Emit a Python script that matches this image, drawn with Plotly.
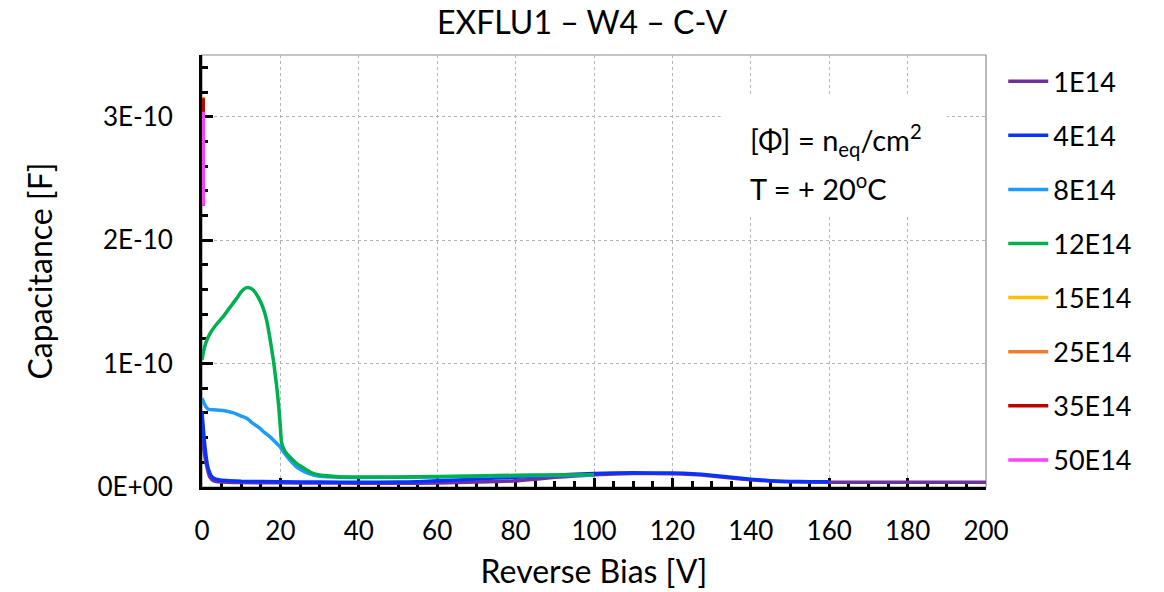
import numpy as np
import plotly.graph_objects as go

# ---------------- data (capacitance in pF, bias in V) ----------------
names = ["1E14", "4E14", "8E14", "12E14", "15E14", "25E14", "35E14", "50E14"]
colors = ["#7030A0", "#0A32FF", "#1E9BFF", "#00B050", "#FFC000", "#ED7D31", "#C00000", "#FF40FF"]

v_1e14 = [0, 1, 2, 3, 5, 10, 20, 30, 40, 50, 60, 70, 80, 85, 90, 95, 100, 110, 120, 125, 130, 135, 140, 145, 150, 160, 170, 180, 190, 200]
c_1e14 = [40, 20, 8, 5, 4, 3.6, 3.4, 3.2, 3.1, 3.0, 3.3, 4.0, 5.0, 6.3, 7.8, 8.9, 10.0, 10.9, 10.8, 10.2, 9.0, 7.3, 5.8, 4.8, 4.3, 3.9, 3.8, 3.8, 3.8, 3.8]

v_4e14 = [0, 0.5, 1, 1.5, 2.5, 3.5, 4.6, 7, 10, 20, 30, 40, 50, 55, 60, 70, 80, 90, 100, 110, 120, 125, 130, 135, 140, 145, 150, 155, 160]
c_4e14 = [61, 41, 26, 16, 8.4, 6.3, 5.6, 5.0, 4.6, 4.2, 4.0, 3.9, 4.0, 4.3, 5.0, 6.5, 8.0, 9.5, 11.0, 11.5, 11.3, 10.8, 9.6, 7.9, 6.3, 5.1, 4.5, 4.3, 4.2]

v_8e14 = [0, 0.5, 1, 1.6, 3, 5.4, 8, 10, 11.4, 13, 14.8, 16, 17.3, 18.5, 19.9, 21, 22.4, 24, 25.2, 27, 28.4, 30, 35, 40, 60, 80, 100]
c_8e14 = [72, 68, 65, 63, 62.5, 62, 60, 57.5, 55.6, 51.5, 47.5, 44, 40.8, 37, 32.7, 27.5, 21.9, 16.5, 14.0, 11.2, 9.7, 8.6, 7.8, 7.6, 8.1, 9.2, 9.6]

v_12e14 = [0, 0.4, 1, 2, 3.5, 5.4, 7, 8.9, 10, 11, 12, 12.7, 13.5, 14.8, 15.7, 16.5, 17.3, 18.2, 19, 19.5, 20, 20.3, 21, 21.6, 23, 24.2, 25.5, 26.7, 28, 30, 35, 40, 50, 60, 70, 80, 90, 100]
c_12e14 = [103, 110, 117, 124, 131, 138, 145, 153, 158, 161, 161.5, 160.5, 158, 151, 144, 135, 121, 103, 83, 68, 48, 36, 30, 27, 22.5, 19, 16.2, 13.8, 11.5, 9.7, 8.4, 8.2, 8.2, 8.5, 9.0, 9.5, 9.8, 9.9]

v_15e14 = [0.3, 0.3]
c_15e14 = [316, 228]
v_25e14 = [0.3, 0.3]
c_25e14 = [315.6, 228]
v_35e14 = [0.3, 0.3]
c_35e14 = [315, 228]
v_50e14 = [0.3, 0.3]
c_50e14 = [304, 228]

series_v = [v_1e14, v_4e14, v_8e14, v_12e14, v_15e14, v_25e14, v_35e14, v_50e14]
series_c = [c_1e14, c_4e14, c_8e14, c_12e14, c_15e14, c_25e14, c_35e14, c_50e14]

y_tickvals = [0, 1e-10, 2e-10, 3e-10]
y_ticktext = ["0E+00", "1E-10", "2E-10", "3E-10"]

FONT = "Lato"

fig = go.Figure()
for name, col, v, c in zip(names, colors, series_v, series_c):
    fig.add_trace(go.Scatter(
        x=v, y=np.array(c) * 1e-12, mode="lines", name=name,
        line=dict(color=col, width=3.5, shape="spline", smoothing=0.5),
        legendgroup=name,
    ))

grid = dict(showgrid=True, gridcolor="#b5b5b5", griddash="dot", gridwidth=1)

fig.update_xaxes(
    range=[0, 200], dtick=20, tick0=0, automargin=False,
    showline=True, linecolor="black", linewidth=3, layer="below traces",
    ticks="inside", ticklen=9, tickwidth=2.5, tickcolor="black",
    minor=dict(tickmode="linear", tick0=0, dtick=5, ticks="inside", ticklen=6, tickwidth=2.5, tickcolor="black", showgrid=False),
    tickfont=dict(family=FONT, size=26, color="black"),
    ticklabelstandoff=19,
    title=dict(text="Reverse Bias [V]", font=dict(family=FONT, size=32, color="black"), standoff=16),
    zeroline=False, **grid,
)
fig.update_yaxes(
    range=[0, 3.5e-10], tickmode="array", tickvals=y_tickvals, ticktext=y_ticktext, automargin=False,
    showline=True, linecolor="black", linewidth=3, layer="below traces",
    ticks="inside", ticklen=11, tickwidth=2.5, tickcolor="black",
    minor=dict(tickmode="linear", tick0=0, dtick=2e-11, ticks="inside", ticklen=6, tickwidth=2.5, tickcolor="black", showgrid=False),
    tickfont=dict(family=FONT, size=26, color="black"),
    ticklabelstandoff=21,
    title=dict(text="Capacitance [F]", font=dict(family=FONT, size=32, color="black"), standoff=36),
    zeroline=False, **grid,
)

fig.update_layout(
    width=1164, height=592,
    margin=dict(l=202, r=178, t=55, b=105, autoexpand=False),
    plot_bgcolor="white", paper_bgcolor="white",
    font=dict(family=FONT, color="black"),
    title=dict(text="EXFLU1 – W4 – C-V", x=0.5, xanchor="center", y=1 - 23 / 592, yanchor="middle",
               font=dict(family=FONT, size=32, color="black")),
    showlegend=True,
    legend=dict(x=1.022, xanchor="left", y=0.995, yanchor="top", traceorder="grouped",
                tracegroupgap=16, font=dict(family=FONT, size=27, color="black"),
                bgcolor="rgba(0,0,0,0)", itemwidth=40),
    shapes=[
        dict(type="rect", xref="paper", yref="paper", x0=0, x1=1, y0=0, y1=1,
             line=dict(color="#8c8c8c", width=1.2), fillcolor="rgba(0,0,0,0)", layer="below"),
        dict(type="rect", xref="x", yref="y", x0=132.3, x1=190, y0=221e-12, y1=316e-12,
             line=dict(width=0), fillcolor="white", layer="between"),
    ],
    annotations=[
        dict(text="[Φ] = n<sub>eq</sub>/cm<sup>2</sup>", x=139.3, y=281.4e-12, xref="x", yref="y",
             xanchor="left", yanchor="middle", showarrow=False,
             font=dict(family=FONT, size=29, color="black")),
        dict(text="T = + 20<sup>o</sup>C", x=139.3, y=243.3e-12, xref="x", yref="y",
             xanchor="left", yanchor="middle", showarrow=False,
             font=dict(family=FONT, size=29, color="black")),
    ],
)

fig.write_html("out.html", config={"displayModeBar": False},
               post_script="document.body.style.margin='0px';")
